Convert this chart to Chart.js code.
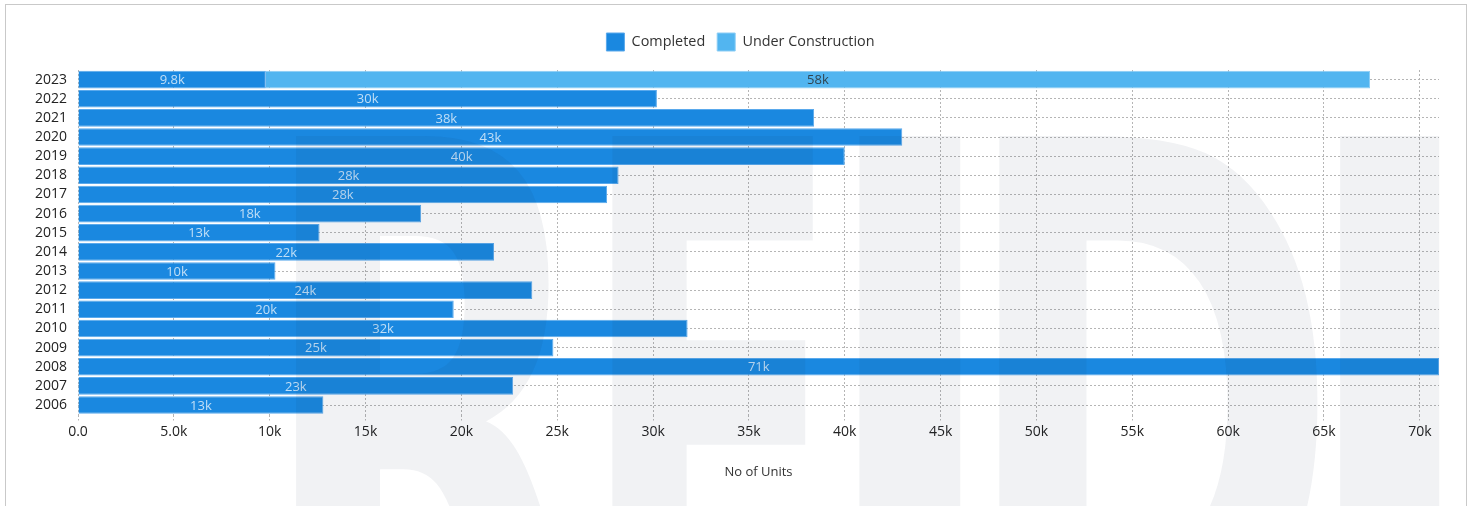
<!DOCTYPE html>
<html>
<head>
<meta charset="utf-8">
<script src="https://cdn.jsdelivr.net/npm/chart.js@4.4.0/dist/chart.umd.min.js"></script>
<style>
  html, body { margin: 0; padding: 0; background: #fff; overflow: hidden; }
  #frame {
    position: absolute; left: 5px; top: 4px; right: 0; height: 560px;
    border: 1px solid #c9c9c9;
  }
  #box { position: absolute; left: 6px; top: 5px; width: 1459px; height: 501px; }
</style>
</head>
<body>
<div id="frame"></div>
<div id="box"><canvas id="chart"></canvas></div>
<script>
// ---- Datos ----
const years = ['2023', '2022', '2021', '2020', '2019', '2018', '2017', '2016', '2015',
               '2014', '2013', '2012', '2011', '2010', '2009', '2008', '2007', '2006'];
const completed = [9800, 30200, 38400, 43000, 40000, 28200, 27600, 17900, 12600,
                   21700, 10300, 23700, 19600, 31800, 24800, 71000, 22700, 12800];
const underConstruction = [57600, 0, 0, 0, 0, 0, 0, 0, 0,
                           0, 0, 0, 0, 0, 0, 0, 0, 0];
const xTicks = [0, 5000, 10000, 15000, 20000, 25000, 30000, 35000,
                40000, 45000, 50000, 55000, 60000, 65000, 70000];
const seriesNames = ['Completed', 'Under Construction'];
const axisTitle = 'No of Units';
const watermark = 'REIDI';

const FONT = "'Open Sans', 'Noto Sans', sans-serif";

function fmtK(v) {
  if (v === 0) return '0.0';
  if (v < 10000) return (v / 1000).toFixed(1) + 'k';
  return Math.round(v / 1000) + 'k';
}

// ---- Etiquetas dentro de las barras ----
const barLabels = {
  id: 'barLabels',
  afterDatasetsDraw(chart) {
    const ctx = chart.ctx;
    ctx.save();
    ctx.font = '13px ' + FONT;
    ctx.textAlign = 'center';
    ctx.textBaseline = 'middle';
    chart.data.datasets.forEach((ds, i) => {
      const meta = chart.getDatasetMeta(i);
      meta.data.forEach((bar, j) => {
        const v = ds.data[j];
        if (!v) return;
        ctx.fillStyle = ds.labelColor;
        ctx.fillText(fmtK(v), (bar.x + bar.base) / 2, bar.y + 1);
      });
    });
    ctx.restore();
  }
};

// ---- Leyenda: espacio extra debajo y centrado ----
const legendTweak = {
  id: 'legendTweak',
  beforeInit(chart) {
    const lg = chart.legend;
    const fit = lg.fit;
    lg.fit = function () {
      fit.call(this);
      this.height += 9;
    };
    const draw = lg.draw;
    lg.draw = function () {
      this.ctx.save();
      this.ctx.translate(9, 0);
      draw.call(this);
      this.ctx.restore();
    };
  }
};

// ---- Marca de agua ----
const watermarkPlugin = {
  id: 'watermark',
  afterDraw(chart) {
    const ctx = chart.ctx;
    // [left, right] of each letter, canvas px
    const boxes = [[284, 584], [601, 817], [846, 955], [987, 1313], [1327, 1434]];
    const top = 127;
    const capH = 540;
    ctx.save();
    ctx.font = 'bold 740px "DejaVu Sans"';
    ctx.fillStyle = 'rgba(20, 40, 70, 0.06)';
    ctx.textBaseline = 'alphabetic';
    watermark.split('').forEach((ch, i) => {
      const m = ctx.measureText(ch);
      const inkW = m.actualBoundingBoxLeft + m.actualBoundingBoxRight;
      const inkH = m.actualBoundingBoxAscent;
      const [x0, x1] = boxes[i];
      ctx.save();
      ctx.translate(x0, top);
      ctx.scale((x1 - x0) / inkW, capH / inkH);
      ctx.fillText(ch, m.actualBoundingBoxLeft, inkH);
      ctx.restore();
    });
    ctx.restore();
  }
};

const grid = {
  color: '#b5b5b5',
  lineWidth: 1
};

const ctx = document.getElementById('chart').getContext('2d');
new Chart(ctx, {
  type: 'bar',
  data: {
    labels: years,
    datasets: [
      {
        label: seriesNames[0],
        data: completed,
        backgroundColor: '#1a88e0',
        borderColor: '#5aa9ec',
        borderWidth: 1,
        labelColor: 'rgba(255, 255, 255, 0.72)'
      },
      {
        label: seriesNames[1],
        data: underConstruction,
        backgroundColor: '#52b5f0',
        borderColor: '#8ccdf5',
        borderWidth: 1,
        labelColor: 'rgba(40, 40, 40, 0.8)'
      }
    ]
  },
  options: {
    indexAxis: 'y',
    responsive: true,
    maintainAspectRatio: false,
    animation: false,
    layout: { padding: { top: 16, left: 18, right: 26, bottom: 22 } },
    datasets: {
      bar: { barPercentage: 1, categoryPercentage: 0.92 }
    },
    scales: {
      x: {
        stacked: true,
        min: 0,
        max: Math.max(...completed),
        border: { display: false, dash: [2, 2] },
        grid: { ...grid, tickLength: 6, tickBorderDash: [2, 2] },
        afterBuildTicks: (scale) => {
          scale.ticks = xTicks.map(v => ({ value: v }));
        },
        ticks: {
          padding: 3,
          color: '#222',
          font: { family: FONT, size: 14 },
          callback: (v) => fmtK(v)
        },
        title: {
          display: true,
          text: axisTitle,
          color: '#333',
          font: { family: FONT, size: 13 },
          padding: { top: 21, bottom: 4 }
        }
      },
      y: {
        stacked: true,
        border: { display: false, dash: [2, 2] },
        grid: { ...grid, offset: false, drawTicks: false },
        ticks: {
          autoSkip: false,
          padding: 11,
          color: '#222',
          font: { family: FONT, size: 14 }
        }
      }
    },
    plugins: {
      legend: {
        display: true,
        position: 'top',
        labels: {
          boxWidth: 18,
          boxHeight: 18,
          padding: 12,
          color: '#333',
          font: { family: FONT, size: 14.4 }
        }
      },
      tooltip: { enabled: false }
    }
  },
  plugins: [legendTweak, barLabels, watermarkPlugin]
});
</script>
</body>
</html>
